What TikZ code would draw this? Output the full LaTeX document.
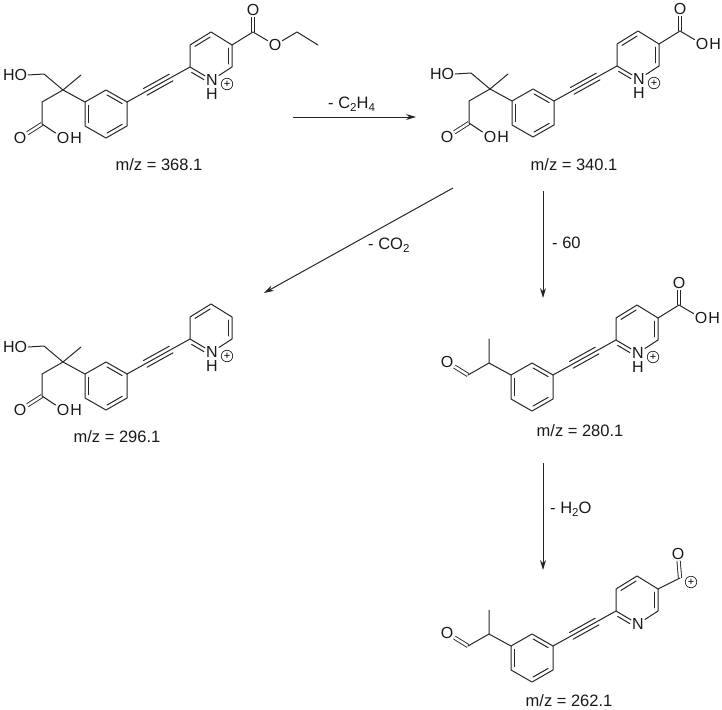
\documentclass[tikz,border=0pt]{standalone}
\usepackage{fontspec}
\setmainfont{Liberation Sans}
\usetikzlibrary{calc,arrows.meta}
\tikzset{
  bond/.style={line width=1pt,line cap=round,line join=round,draw=black!85},
  cob/.style={line width=.9pt,draw=black!85,double=white,double distance=2.4pt},
  atom/.style={inner sep=1.2pt,font=\fontsize{16}{16}\selectfont,text=black!90,outer sep=0pt},
  mz/.style={inner sep=0pt,font=\fontsize{16.5}{17}\selectfont,text=black!90},
  rxlabel/.style={inner sep=0pt,anchor=base west,font=\fontsize{16.5}{17}\selectfont,text=black!90},
  chg/.style={circle,draw=black!85,line width=.7pt,minimum size=11.5pt,inner sep=0pt,font=\fontsize{11}{11}\selectfont},
  rxarrow/.style={line width=1pt,draw=black!85,-{Stealth[length=10pt,width=6pt]}}
}
\newcommand\lowidx[1]{\raisebox{-3pt}{\fontsize{11.5}{12}\selectfont #1}}
% inner ring line: a -> b clockwise, fractions #3 to #4
\newcommand\inb[4]{\draw[bond] ($(#1)!#3!(#2)!3.8pt!-90:(#2)$) -- ($(#1)!#4!(#2)!3.8pt!-90:(#2)$);}
\newcommand\benz{
  \coordinate (r1) at (106,90); \coordinate (r2) at (127,102); \coordinate (r3) at (127,126);
  \coordinate (r4) at (106,138); \coordinate (r5) at (85,126); \coordinate (r6) at (85,102);
  \draw[bond] (r1)--(r2)--(r3)--(r4)--(r5)--(r6)--cycle;
  \inb{r5}{r6}{.14}{.86}\inb{r1}{r2}{.14}{.86}\inb{r3}{r4}{.14}{.86}
}
\newcommand\alkyne{
  \coordinate (p2) at (190,67);
  \draw[bond] (r2)--(p2);
  \draw[bond] ($(r2)!.29!(p2)!3.8pt!90:(p2)$)--($(r2)!.70!(p2)!3.8pt!90:(p2)$);
  \draw[bond] ($(r2)!.29!(p2)!3.8pt!-90:(p2)$)--($(r2)!.70!(p2)!3.8pt!-90:(p2)$);
}
\newcommand\pyr[1]{
  \coordinate (p3) at (190,45); \coordinate (p4) at (211,32); \coordinate (p5) at (232,45); \coordinate (p6) at (232,67);
  \node[atom] (n) at (212,80) {N};
  \draw[bond] (n)--(p2)--(p3)--(p4)--(p5)--(p6)--(n);
  \inb{p3}{p4}{.14}{.86}\inb{p5}{p6}{.14}{.86}\inb{p2}{n}{.16}{.72}
  #1
}
\newcommand\nhplus{
  \node[atom] (h) at (212,94) {H};
  \node[chg] (plus) at (227,84) {+};
}
\newcommand\hoarm{
  \node[atom] (ho) at (15,75) {HO};
  \coordinate (ch2a) at (44,74); \coordinate (q) at (63,90); \coordinate (me) at (81,75);
  \coordinate (ch2b) at (42,102); \coordinate (cc) at (42,124);
  \node[atom] (oa) at (20,138) {O};
  \node[atom] (oh) at (63,138) {O};
  \node[atom,anchor=west,inner sep=0pt] (ohh) at (oh.east) {H};
  \draw[cob] (cc)--(oa);
  \draw[bond] (ho.east)--(ch2a)--(q)--(me);
  \draw[bond] (q)--(r6); \draw[bond] (q)--(ch2b)--(cc)--(oh);
}
\newcommand\acid{
  \coordinate (ca) at (253,32);
  \node[atom] (ob) at (253,10) {O};
  \node[atom] (oc) at (275,45) {O};
  \node[atom,anchor=west,inner sep=0pt] (och) at (oc.east) {H};
  \draw[cob] (ca)--(ob);
  \draw[bond] (p5)--(ca)--(oc);
}
\newcommand\ald{
  \coordinate (ch) at (63,90); \coordinate (cm) at (63,66); \coordinate (co) at (42,102);
  \node[atom] (oo) at (21,89) {O};
  \draw[cob] (co)--(oo);
  \draw[bond] (r6)--(ch)--(cm); \draw[bond] (ch)--(co);
}
\begin{document}
\begin{tikzpicture}[x=1pt,y=-1pt]
\useasboundingbox (0,0) rectangle (722,709);
% molecule 368.1
\begin{scope}
  \benz\alkyne\pyr{\nhplus}\hoarm
  \coordinate (ce) at (253,32);
  \node[atom] (oe1) at (253,10) {O};
  \node[atom] (oe2) at (275,45) {O};
  \coordinate (et1) at (297,32); \coordinate (et2) at (318,45);
  \draw[cob] (ce)--(oe1);
  \draw[bond] (p5)--(ce)--(oe2)--(et1)--(et2);
\end{scope}
\node[mz] (mz1) at (159,165) {m/z = 368.1};
% molecule 340.1
\begin{scope}[shift={(427,-1)}]
  \benz\alkyne\pyr{\nhplus}\hoarm\acid
\end{scope}
\node[mz] (mz2) at (574,165) {m/z = 340.1};
% molecule 296.1
\begin{scope}[shift={(0,272)}]
  \benz\alkyne\pyr{\nhplus}\hoarm
\end{scope}
\node[mz] (mz3) at (117,437) {m/z = 296.1};
% molecule 280.1
\begin{scope}[shift={(426,273)}]
  \benz\alkyne\pyr{\nhplus}\ald\acid
\end{scope}
\node[mz] (mz4) at (580,431) {m/z = 280.1};
% molecule 262.1
\begin{scope}[shift={(426,544)}]
  \benz\alkyne\pyr{}\ald
  \coordinate (cf) at (254,34);
  \node[atom] (of) at (252,10) {O};
  \node[chg] (plusf) at (265,38) {+};
  \draw[cob] (cf)--(of);
  \draw[bond] (p5)--(cf);
\end{scope}
\node[mz] (mz5) at (569,701) {m/z = 262.1};
% reaction arrows
\coordinate (a1s) at (293,117); \coordinate (a1e) at (416,117);
\coordinate (a2s) at (453,188); \coordinate (a2e) at (264,293);
\coordinate (a3s) at (543,191); \coordinate (a3e) at (543,298);
\coordinate (a4s) at (543,463); \coordinate (a4e) at (543,570);
\draw[rxarrow] (a1s)--(a1e);
\draw[rxarrow] (a2s)--(a2e);
\draw[rxarrow] (a3s)--(a3e);
\draw[rxarrow] (a4s)--(a4e);
\node[rxlabel] (l1) at (328,108) {- C\lowidx{2}H\lowidx{4}};
\node[rxlabel] (l2) at (368,249) {- CO\lowidx{2}};
\node[rxlabel] (l3) at (552,248) {- 60};
\node[rxlabel] (l4) at (550,513) {- H\lowidx{2}O};
\end{tikzpicture}
\end{document}
